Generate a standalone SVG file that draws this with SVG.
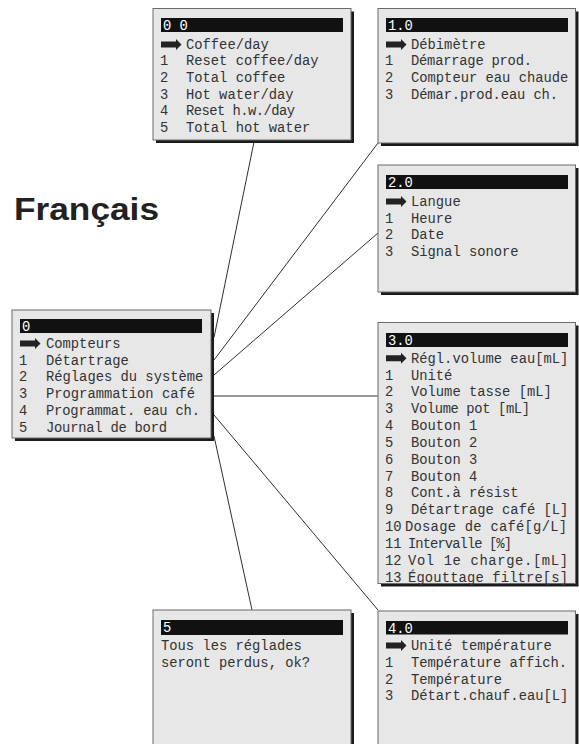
<svg xmlns="http://www.w3.org/2000/svg" xmlns:xlink="http://www.w3.org/1999/xlink" width="579" height="744" viewBox="0 0 579 744">
<style>
.box{fill:#e7e7e8;stroke:#6a6a6a;stroke-width:1}
.sh{fill:#1b1b1b}
.bar{fill:#111}
.t{font-family:"Liberation Mono","DejaVu Sans Mono",monospace;font-size:13.8px;fill:#333}
.bt{font-family:"Liberation Mono","DejaVu Sans Mono",monospace;font-size:13.8px;fill:#fff}
.ln{stroke:#2e2e2e;stroke-width:1;fill:none}
.title{font-family:"Liberation Sans",Arial,sans-serif;font-weight:bold;font-size:32px;fill:#222}
</style>
<defs>
<path id="arr" d="M0,-3 H15 V-5.5 L20.5,0 L15,5.5 V3 H0 Z" fill="#222"/>
</defs>
<rect width="579" height="744" fill="#fff"/>
<text class="title" x="14" y="219.5" textLength="145" lengthAdjust="spacingAndGlyphs">Français</text>
<g id="connectors">
<line class="ln" x1="254.4" y1="140" x2="214" y2="337.5"/>
<line class="ln" x1="378" y1="143" x2="214" y2="360"/>
<line class="ln" x1="378" y1="233" x2="214" y2="375"/>
<line x1="214" y1="396" x2="378" y2="396" stroke="#777" stroke-width="1.6"/>
<line class="ln" x1="214" y1="415" x2="378" y2="610"/>
<line class="ln" x1="214" y1="436" x2="252" y2="610"/>
</g>
<g id="box-00">
<rect class="sh" x="156" y="11.5" width="198" height="131.5"/>
<rect class="box" x="153" y="8.5" width="198" height="131.5"/>
<rect class="bar" x="161" y="18" width="182" height="14"/>
<text class="bt" x="163" y="29.5">0 0</text>
<use href="#arr" x="161" y="44.5"/>
<text class="t" x="186" y="48.5">Coffee/day</text>
<text class="t" x="160" y="65.2">1</text><text class="t" x="186" y="65.2">Reset coffee/day</text>
<text class="t" x="160" y="81.9">2</text><text class="t" x="186" y="81.9">Total coffee</text>
<text class="t" x="160" y="98.6">3</text><text class="t" x="186" y="98.6">Hot water/day</text>
<text class="t" x="160" y="115.3">4</text><text class="t" x="186" y="115.3" textLength="109">Reset h.w./day</text>
<text class="t" x="160" y="132">5</text><text class="t" x="186" y="132">Total hot water</text>
</g>
<g id="box-10">
<rect class="sh" x="381" y="11.5" width="197.5" height="134.5"/>
<rect class="box" x="378" y="8.5" width="197.5" height="134.5"/>
<rect class="bar" x="386" y="18" width="182" height="14"/>
<text class="bt" x="388" y="29.5">1.0</text>
<use href="#arr" x="386" y="44.5"/>
<text class="t" x="411" y="48.5">Débimètre</text>
<text class="t" x="385" y="65.2">1</text><text class="t" x="411" y="65.2" textLength="121">Démarrage prod.</text>
<text class="t" x="385" y="81.9">2</text><text class="t" x="411" y="81.9">Compteur eau chaude</text>
<text class="t" x="385" y="98.6">3</text><text class="t" x="411" y="98.6" textLength="147">Démar.prod.eau ch.</text>
</g>
<g id="box-20">
<rect class="sh" x="381" y="168" width="197.5" height="127"/>
<rect class="box" x="378" y="165" width="197.5" height="127"/>
<rect class="bar" x="386" y="175" width="182" height="14"/>
<text class="bt" x="388" y="186.5">2.0</text>
<use href="#arr" x="386" y="201.5"/>
<text class="t" x="411" y="206">Langue</text>
<text class="t" x="385" y="222.7">1</text><text class="t" x="411" y="222.7">Heure</text>
<text class="t" x="385" y="239.4">2</text><text class="t" x="411" y="239.4">Date</text>
<text class="t" x="385" y="256.1">3</text><text class="t" x="411" y="256.1">Signal sonore</text>
</g>
<g id="box-0">
<rect class="sh" x="15" y="313" width="199" height="128"/>
<rect class="box" x="12" y="310" width="199" height="128"/>
<rect class="bar" x="20" y="319" width="182" height="14"/>
<text class="bt" x="22" y="330.5">0</text>
<use href="#arr" x="20" y="343.5"/>
<text class="t" x="46" y="348">Compteurs</text>
<text class="t" x="19" y="364.7">1</text><text class="t" x="46" y="364.7">Détartrage</text>
<text class="t" x="19" y="381.4">2</text><text class="t" x="46" y="381.4">Réglages du système</text>
<text class="t" x="19" y="398.1">3</text><text class="t" x="46" y="398.1">Programmation café</text>
<text class="t" x="19" y="414.8">4</text><text class="t" x="46" y="414.8" textLength="154">Programmat. eau ch.</text>
<text class="t" x="19" y="431.5">5</text><text class="t" x="46" y="431.5" textLength="121">Journal de bord</text>
</g>
<g id="box-30">
<rect class="sh" x="381" y="325.5" width="197.5" height="261"/>
<rect class="box" x="378" y="322.5" width="197.5" height="261"/>
<rect class="bar" x="386" y="333" width="182" height="14"/>
<text class="bt" x="388" y="344.5">3.0</text>
<use href="#arr" x="386" y="358.2"/>
<text class="t" x="411" y="362.7">Régl.volume eau[mL]</text>
<text class="t" x="385" y="379.5">1</text><text class="t" x="411" y="379.5">Unité</text>
<text class="t" x="385" y="396.4">2</text><text class="t" x="411" y="396.4">Volume tasse [mL]</text>
<text class="t" x="385" y="413.2">3</text><text class="t" x="411" y="413.2" textLength="119">Volume pot [mL]</text>
<text class="t" x="385" y="430">4</text><text class="t" x="411" y="430">Bouton 1</text>
<text class="t" x="385" y="446.9">5</text><text class="t" x="411" y="446.9">Bouton 2</text>
<text class="t" x="385" y="463.7">6</text><text class="t" x="411" y="463.7">Bouton 3</text>
<text class="t" x="385" y="480.5">7</text><text class="t" x="411" y="480.5">Bouton 4</text>
<text class="t" x="385" y="497.3">8</text><text class="t" x="411" y="497.3">Cont.à résist</text>
<text class="t" x="385" y="514.2">9</text><text class="t" x="411" y="514.2">Détartrage café [L]</text>
<text class="t" x="385" y="531">10</text><text class="t" x="405" y="531" textLength="162">Dosage de café[g/L]</text>
<text class="t" x="385" y="547.8">11</text><text class="t" x="408" y="547.8" textLength="104">Intervalle [%]</text>
<text class="t" x="385" y="564.7">12</text><text class="t" x="408" y="564.7" textLength="160">Vol 1e charge.[mL]</text>
<text class="t" x="385" y="581.5">13</text><text class="t" x="408" y="581.5" textLength="160">Égouttage filtre[s]</text>
</g>
<g id="box-5">
<rect class="sh" x="156" y="613" width="198" height="140"/>
<rect class="box" x="153" y="610" width="198" height="140"/>
<rect class="bar" x="161" y="620" width="182" height="15"/>
<text class="bt" x="163" y="632">5</text>
<text class="t" x="161" y="650">Tous les réglades</text>
<text class="t" x="161" y="667">seront perdus, ok?</text>
</g>
<g id="box-40">
<rect class="sh" x="381" y="614" width="197.5" height="140"/>
<rect class="box" x="378" y="611" width="197.5" height="140"/>
<rect class="bar" x="386" y="621" width="182" height="13.5"/>
<text class="bt" x="388" y="632.5">4.0</text>
<use href="#arr" x="386" y="645.5"/>
<text class="t" x="411" y="650">Unité température</text>
<text class="t" x="385" y="666.8">1</text><text class="t" x="411" y="666.8" textLength="156">Température affich.</text>
<text class="t" x="385" y="683.6">2</text><text class="t" x="411" y="683.6">Température</text>
<text class="t" x="385" y="700.4">3</text><text class="t" x="411" y="700.4">Détart.chauf.eau[L]</text>
</g>
</svg>
